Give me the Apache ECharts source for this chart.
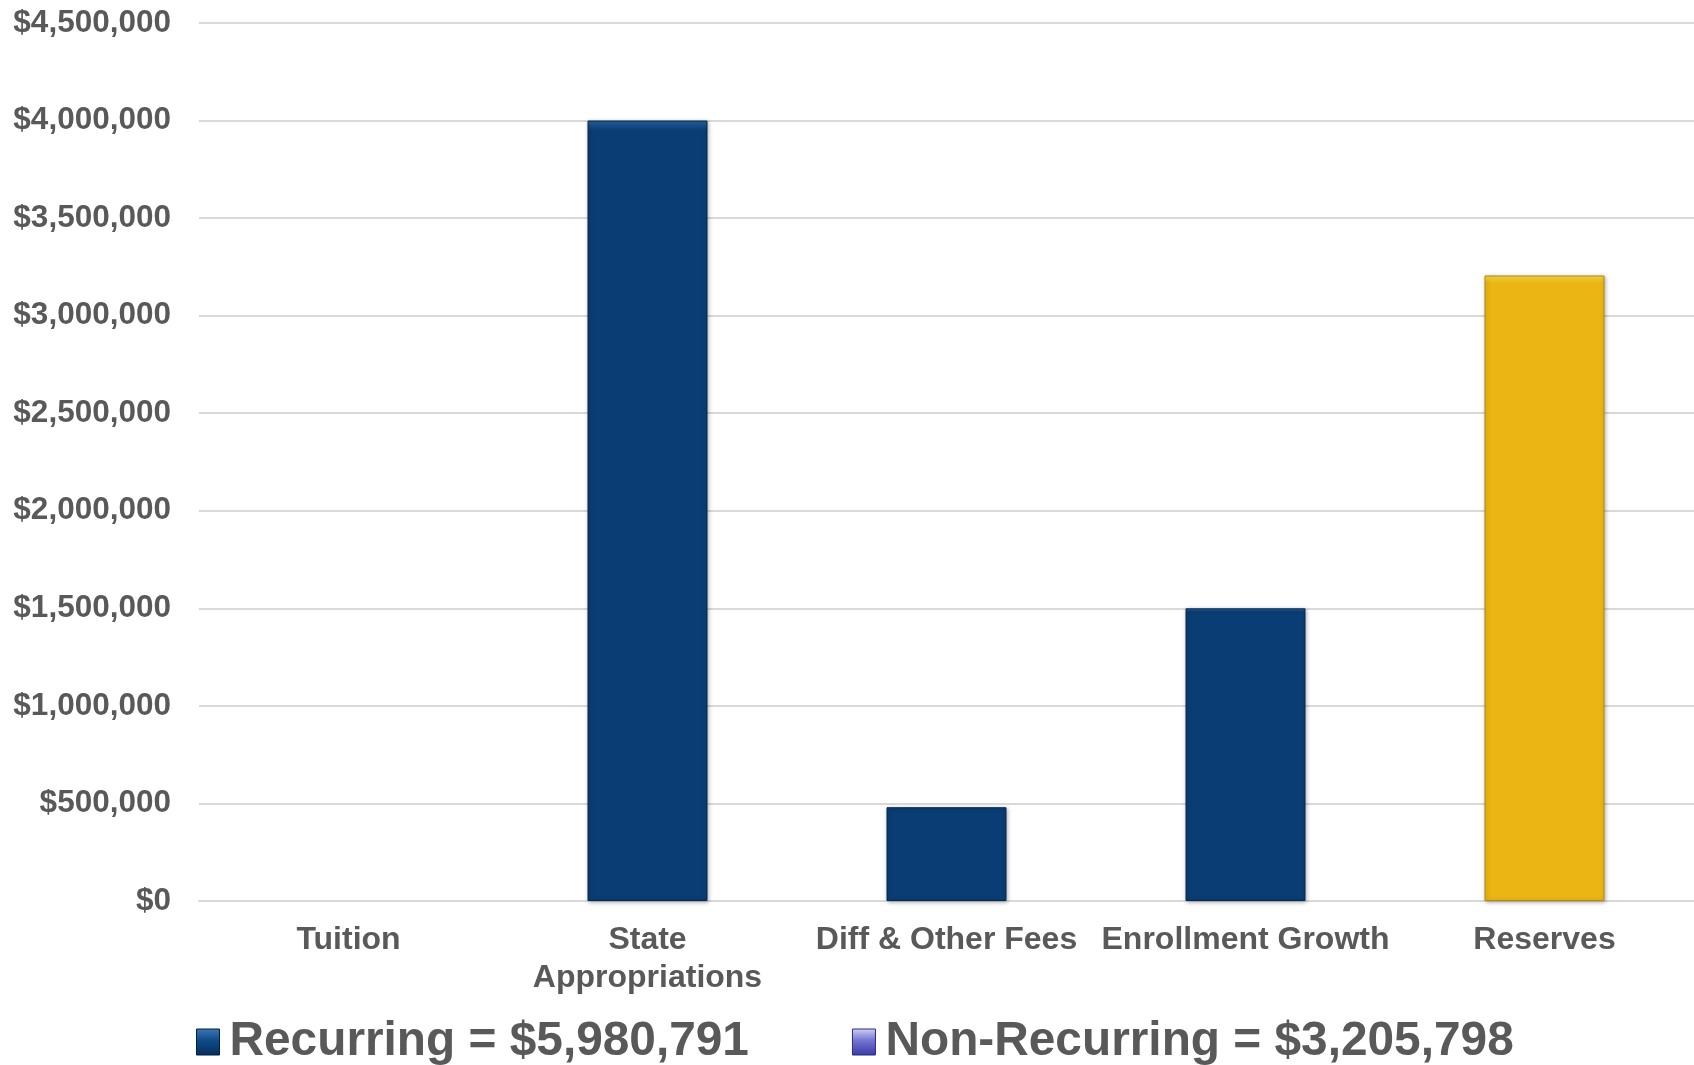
<!DOCTYPE html>
<html>
<head>
<meta charset="utf-8">
<script src="https://cdn.jsdelivr.net/npm/echarts@6/dist/echarts.min.js"></script>
<style>
html,body{margin:0;padding:0;background:#fff;}
#c{width:1694px;height:1065px;}
</style>
</head>
<body>
<div id="c"></div>
<script>
const categories = ['Tuition', 'State\nAppropriations', 'Diff & Other Fees', 'Enrollment Growth', 'Reserves'];
const recurring = [0, 4000000, 480791, 1500000, 0];
const nonRecurring = [0, 0, 0, 0, 3205798];
const yMin = 0, yMax = 4500000, yStep = 500000;

const fmt = v => '$' + Math.round(v).toLocaleString('en-US');
const sum = a => a.reduce((s, v) => s + v, 0);
const recName = 'Recurring = ' + fmt(sum(recurring));
const nonName = 'Non-Recurring = ' + fmt(sum(nonRecurring));
const barData = a => a.map(v => (v === 0 ? '-' : v));

const FONT = '"Liberation Sans", Arial, sans-serif';
const TXT = '#595959';
const BLUE = '#0A3D74';
const GOLD = '#EBB514';

const chart = echarts.init(document.getElementById('c'), null, {renderer: 'canvas'});
chart.setOption({
  animation: false,
  backgroundColor: '#ffffff',
  grid: {left: 199, right: 0, top: 23, bottom: 164, containLabel: false},
  legend: {
    left: 191, top: 1013,
    itemGap: 103, itemWidth: 23, itemHeight: 26,
    textStyle: {fontFamily: FONT, fontSize: 47.8, fontWeight: 'bold', color: TXT, padding: [0, 0, 0, 5]},
    data: [
      {name: recName, icon: 'rect', itemStyle: {color: new echarts.graphic.LinearGradient(0,0,0,1,[{offset:0,color:'#3f78b8'},{offset:0.45,color:'#0d4a88'},{offset:1,color:'#062e5a'}]), borderColor: '#041f40', borderWidth: 1}},
      {name: nonName, icon: 'rect', itemStyle: {color: new echarts.graphic.LinearGradient(0,0,0,1,[{offset:0,color:'#d2d2f6'},{offset:0.45,color:'#7272d0'},{offset:1,color:'#3a3aa6'}]), borderColor: '#2a2a80', borderWidth: 1}}
    ]
  },
  xAxis: {
    type: 'category',
    data: categories,
    axisLine: {show: true, lineStyle: {color: '#D9D9D9', width: 2}},
    axisTick: {show: false},
    axisLabel: {interval: 0, margin: 20, fontFamily: FONT, fontSize: 32, fontWeight: 'bold', color: TXT, lineHeight: 38, verticalAlign: 'top'}
  },
  yAxis: {
    type: 'value',
    min: yMin, max: yMax, interval: yStep,
    axisLine: {show: false},
    axisTick: {show: false},
    splitLine: {lineStyle: {color: '#D9D9D9', width: 2}},
    axisLabel: {margin: 28, fontFamily: FONT, fontSize: 31.5, fontWeight: 'bold', color: TXT, formatter: fmt}
  },
  series: [
    {
      name: recName, type: 'bar', stack: 'total', barWidth: 120,
      data: barData(recurring),
      itemStyle: {color: new echarts.graphic.LinearGradient(0,0,0,1,[{offset:0,color:'#2a62a0'},{offset:0.012,color:BLUE},{offset:1,color:BLUE}]), borderColor: '#05294f', borderWidth: 1, shadowBlur: 4, shadowColor: 'rgba(0,0,0,0.3)', shadowOffsetX: 1, shadowOffsetY: 1}
    },
    {
      name: nonName, type: 'bar', stack: 'total', barWidth: 120,
      data: barData(nonRecurring),
      itemStyle: {color: new echarts.graphic.LinearGradient(0,0,0,1,[{offset:0,color:'#f7e04a'},{offset:0.012,color:GOLD},{offset:1,color:GOLD}]), borderColor: '#b58a0a', borderWidth: 1, shadowBlur: 4, shadowColor: 'rgba(0,0,0,0.3)', shadowOffsetX: 1, shadowOffsetY: 1}
    }
  ]
});
</script>
</body>
</html>
